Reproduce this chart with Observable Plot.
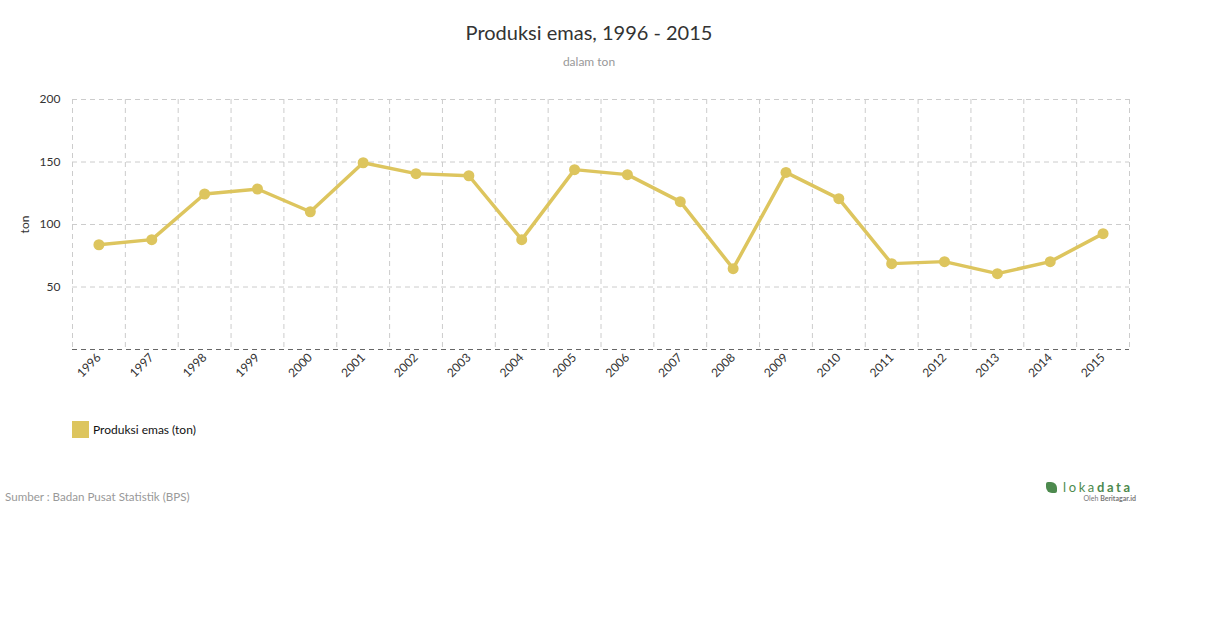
<!DOCTYPE html>
<html>
<head>
<meta charset="utf-8">
<script src="https://cdn.jsdelivr.net/npm/d3@7"></script>
<script src="https://cdn.jsdelivr.net/npm/@observablehq/plot@0.6"></script>
<style>
  body { margin: 0; background: #fff; font-family: Lato, "Open Sans", sans-serif; }
  #wrap { position: relative; width: 1210px; height: 628px; }
  #title { position: absolute; left: 0; width: 1178px; top: 20px; text-align: center; font-size: 20px; color: #333; }
  #subtitle { position: absolute; left: 0; width: 1178px; top: 54px; text-align: center; font-size: 12px; color: #999; }
  #chart { position: absolute; left: 0; top: 0; }
  #legend { position: absolute; left: 72px; top: 421px; display: flex; align-items: center; font-size: 12px; color: #111; }
  #legend .sw { width: 17px; height: 17px; margin-right: 4px; }
  #source { position: absolute; left: 5px; top: 490px; font-size: 11.6px; color: #999; }
  #logo { position: absolute; left: 1046px; top: 479px; width: 90px; }
  #logo .name { font-size: 13px; color: #4d8a4e; letter-spacing: 2.6px; display: flex; align-items: center; }
  #logo .name b { font-weight: 700; }
  #logo .icon { width: 11px; height: 11px; background: #4d8a4e; border-radius: 2px 6px 2px 6px; margin-right: 6px; }
  #logo .by { font-size: 7px; color: #777; text-align: right; margin-top: -1px; }
</style>
</head>
<body>
<div id="wrap">
  <div id="chart"></div>
  <div id="title">Produksi emas, 1996 - 2015</div>
  <div id="subtitle">dalam ton</div>
  <div id="legend"></div>
  <div id="source">Sumber : Badan Pusat Statistik (BPS)</div>
  <div id="logo">
    <div class="name"><span class="icon"></span>loka<b>data</b></div>
    <div class="by">Oleh <b>Beritagar.id</b></div>
  </div>
</div>
<script>
const years = [1996, 1997, 1998, 1999, 2000, 2001, 2002, 2003, 2004, 2005,
               2006, 2007, 2008, 2009, 2010, 2011, 2012, 2013, 2014, 2015];
const values = [83.8, 87.9, 124.4, 128.4, 110.2, 149.4, 140.7, 139.0, 87.9, 143.9,
                139.9, 118.3, 64.7, 141.7, 120.7, 68.7, 70.3, 60.7, 70.3, 92.7];
const yTicks = [50, 100, 150, 200];
const seriesName = "Produksi emas (ton)";
const yLabel = "ton";
const color = "#DDC55E";

const data = years.map((y, i) => ({year: y, value: values[i]}));
const boundaries = years.map(y => y - 0.5).concat([years[years.length - 1] + 0.5]);

const chart = Plot.plot({
  width: 1210,
  height: 400,
  marginTop: 99,
  marginBottom: 51,
  marginLeft: 72,
  marginRight: 81,
  style: { fontFamily: "Lato, sans-serif", fontSize: "12px", color: "#333", background: "transparent" },
  x: {
    type: "linear",
    domain: [years[0] - 0.5, years[years.length - 1] + 0.5],
    ticks: years,
    tickFormat: d => String(d),
    tickRotate: -45,
    tickSize: 0,
    tickPadding: 6,
    label: null
  },
  y: {
    domain: [0, 200],
    ticks: yTicks,
    tickSize: 0,
    tickPadding: 12,
    label: yLabel,
    labelAnchor: "center",
    labelArrow: "none",
    labelOffset: 52
  },
  marks: [
    Plot.ruleX(boundaries, {stroke: "#ccc", strokeDasharray: "5,4", strokeWidth: 1}),
    Plot.ruleY(yTicks, {stroke: "#ccc", strokeDasharray: "5,4", strokeWidth: 1}),
    Plot.ruleY([0], {stroke: "#666", strokeDasharray: "5,4", strokeWidth: 1}),
    Plot.line(data, {x: "year", y: "value", stroke: color, strokeWidth: 3.5}),
    Plot.dot(data, {x: "year", y: "value", fill: color, r: 5.5})
  ]
});
document.getElementById("chart").appendChild(chart);

const lg = document.getElementById("legend");
lg.innerHTML = `<div class="sw" style="background:${color}"></div><span>${seriesName}</span>`;
</script>
</body>
</html>
